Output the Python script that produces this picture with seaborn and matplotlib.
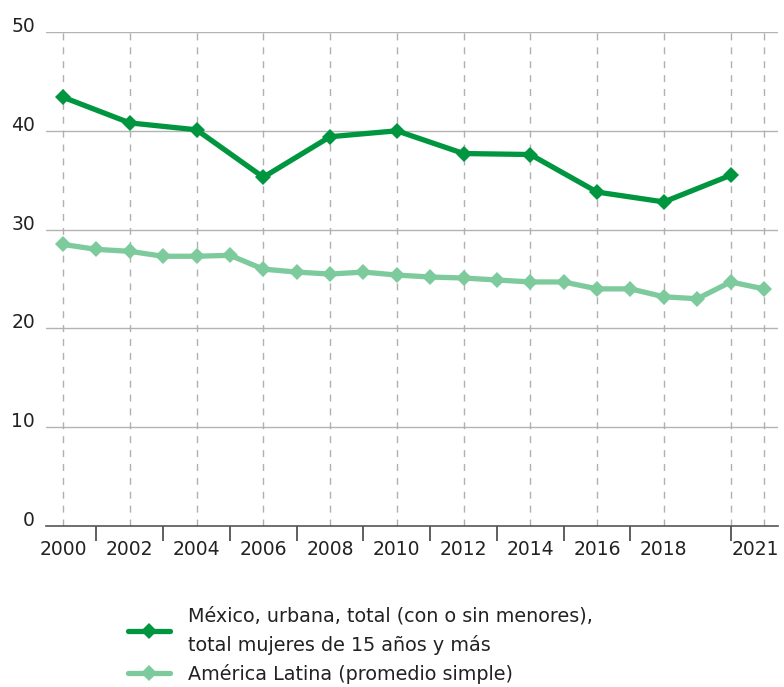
import matplotlib
matplotlib.use("Agg")
import matplotlib.pyplot as plt
import matplotlib.transforms as mtransforms
import seaborn as sns
import pandas as pd

# ----------------------------
# Data
# ----------------------------
mex_years = [2000, 2002, 2004, 2006, 2008, 2010, 2012, 2014, 2016, 2018, 2020]
mex_values = [43.4, 40.8, 40.1, 35.3, 39.4, 40.0, 37.7, 37.6, 33.8, 32.8, 35.5]

lat_years = list(range(2000, 2022))
lat_values = [28.5, 28.0, 27.8, 27.3, 27.3, 27.4, 26.0, 25.7, 25.5, 25.7, 25.4,
              25.2, 25.1, 24.9, 24.7, 24.7, 24.0, 24.0, 23.2, 23.0, 24.7, 24.0]

mex_label = "México, urbana, total (con o sin menores),\ntotal mujeres de 15 años y más"
lat_label = "América Latina (promedio simple)"

label_years = [2000, 2002, 2004, 2006, 2008, 2010, 2012, 2014, 2016, 2018, 2021]
grid_years = [2000, 2002, 2004, 2006, 2008, 2010, 2012, 2014, 2016, 2018, 2020, 2021]
tick_years = [2001, 2003, 2005, 2007, 2009, 2011, 2013, 2015, 2017, 2020]
y_ticks = [0, 10, 20, 30, 40, 50]

DARK = "#009640"
LIGHT = "#7dcb9c"

sns.set_style("white")
plt.rcParams["font.family"] = ["DejaVu Sans"]

fig = plt.figure(figsize=(7.84, 6.87), dpi=100)
ax = fig.add_axes([46 / 784, 1 - 526 / 687, (778 - 46) / 784, (526 - 32) / 687])

mex = pd.DataFrame({"year": mex_years, "value": mex_values})
lat = pd.DataFrame({"year": lat_years, "value": lat_values})

sns.lineplot(data=mex, x="year", y="value", ax=ax, color=DARK, lw=3.8,
             marker="D", markersize=8, markeredgewidth=0, label=mex_label, zorder=4)
sns.lineplot(data=lat, x="year", y="value", ax=ax, color=LIGHT, lw=3.8,
             marker="D", markersize=8, markeredgewidth=0, label=lat_label, zorder=3)

ax.set_xlim(1999.49, 2021.42)
ax.set_ylim(0, 50)
ax.set_xlabel("")
ax.set_ylabel("")

# horizontal grid
for y in y_ticks[1:]:
    ax.axhline(y, color="#b3b3b3", lw=1.0, zorder=1)
# vertical dashed lines
for x in grid_years:
    ax.axvline(x, color="#b0b0b0", lw=1.0, ls=(0, (5, 5)), zorder=1)

for side in ["left", "right", "top"]:
    ax.spines[side].set_visible(False)
ax.spines["bottom"].set_color("#555555")
ax.spines["bottom"].set_linewidth(1.2)

ax.set_yticks(y_ticks)
ax.set_yticklabels([str(v) for v in y_ticks])
ax.tick_params(axis="y", length=0, pad=8, labelsize=13.5, labelcolor="#222222")
for t in ax.get_yticklabels():
    t.set_verticalalignment("baseline")

ax.set_xticks(label_years)
ax.set_xticklabels([str(v) for v in label_years])
ax.set_xticks(tick_years, minor=True)
ax.xaxis.remove_overlapping_locs = False
ax.tick_params(axis="x", which="major", length=0, pad=10, labelsize=13.5, labelcolor="#222222")
ax.tick_params(axis="x", which="minor", length=11, width=1.2, color="#444444", direction="out")
ax.xaxis.set_ticks_position("bottom")

# last label is pulled inward so it stays on the canvas
last = ax.get_xticklabels()[-1]
last.set_transform(last.get_transform()
                   + mtransforms.ScaledTranslation(-9 / 100, 0, fig.dpi_scale_trans))

ax.get_legend().remove()
handles, labels = ax.get_legend_handles_labels()
leg = fig.legend(handles, labels, loc="upper left", bbox_to_anchor=(128 / 784, 1 - 606 / 687),
                 frameon=False, fontsize=13.8, handlelength=2.2, handletextpad=0.95,
                 borderpad=0, borderaxespad=0, labelspacing=0.46, labelcolor="#222222")
for t in leg.get_texts():
    t.set_linespacing(1.64)

fig.savefig("out.png", dpi=100)
